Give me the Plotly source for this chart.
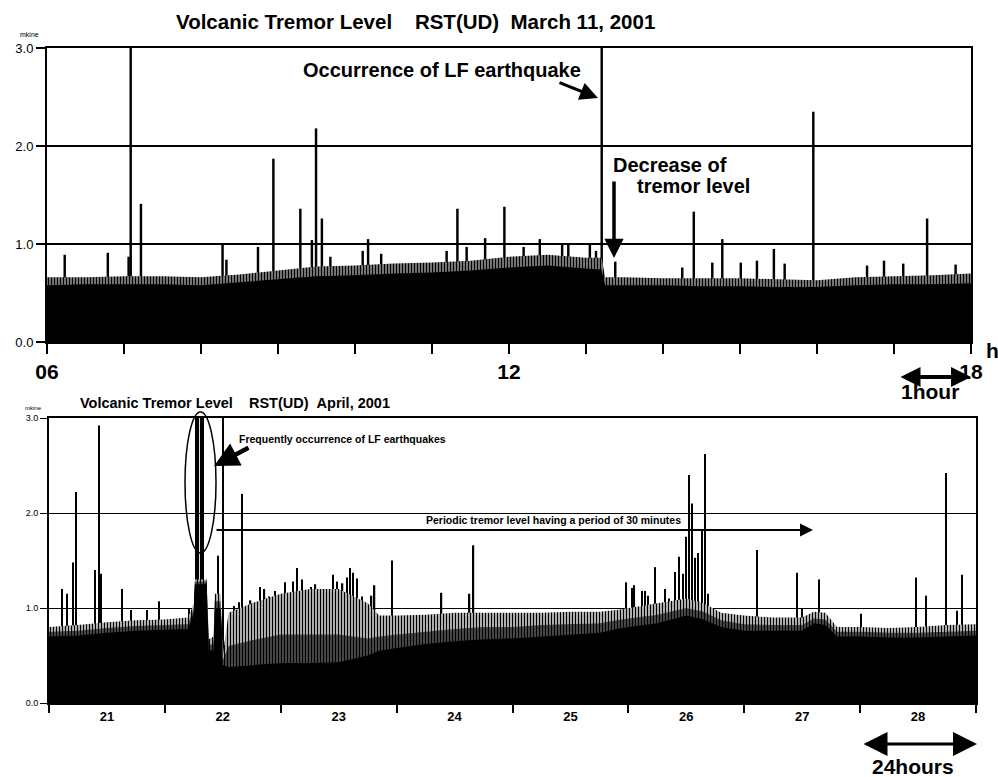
import plotly.graph_objects as go

# ---------------- data: top panel (March 11, 2001, hours) ----------------
top_time = [6.0, 6.5, 7.0, 7.5, 8.0, 8.5, 9.0, 9.5, 10.0, 10.5, 11.0, 11.5, 12.0, 12.5,
            13.0, 13.2, 13.25, 13.5, 14.0, 14.5, 15.0, 15.5, 16.0, 16.5, 17.0, 17.5, 18.0]
top_low = [0.58, 0.59, 0.59, 0.59, 0.58, 0.61, 0.64, 0.67, 0.68, 0.70, 0.71, 0.73, 0.76, 0.78,
           0.75, 0.74, 0.58, 0.58, 0.58, 0.57, 0.57, 0.56, 0.56, 0.58, 0.59, 0.59, 0.60]
top_high = [0.66, 0.66, 0.67, 0.67, 0.66, 0.69, 0.73, 0.77, 0.78, 0.80, 0.81, 0.83, 0.87, 0.89,
            0.86, 0.86, 0.66, 0.66, 0.65, 0.65, 0.65, 0.64, 0.63, 0.66, 0.67, 0.68, 0.70]
top_spike_time = [6.23, 6.79, 7.06, 7.087, 7.22, 8.28, 8.33, 8.74, 8.94, 9.29, 9.44, 9.494, 9.57,
                  9.68, 10.10, 10.17, 10.34, 11.19, 11.33, 11.45, 11.69, 11.94, 12.19, 12.40,
                  12.69, 12.77, 13.05, 13.13, 13.204, 13.38, 14.25, 14.40, 14.64, 14.77, 15.01,
                  15.22, 15.44, 15.58, 15.952, 16.65, 16.87, 17.12, 17.43, 17.80]
top_spike_val = [0.89, 0.91, 0.87, 3.0, 1.41, 0.99, 0.84, 0.97, 1.87, 1.36, 1.04, 2.18, 1.26,
                 0.87, 0.93, 1.05, 0.90, 0.93, 1.36, 0.97, 1.06, 1.38, 0.97, 1.05,
                 1.01, 0.99, 0.99, 0.93, 3.0, 0.82, 0.76, 1.33, 0.81, 1.05, 0.81,
                 0.83, 0.95, 0.80, 2.35, 0.78, 0.83, 0.80, 1.26, 0.79]
top_hours = list(range(6, 19))
top_hour_labels = ["06", "", "", "", "", "", "12", "", "", "", "", "", "18"]

# ---------------- data: bottom panel (April 2001, days) ----------------
bot_day = [21.0, 21.25, 21.5, 21.75, 22.0, 22.2, 22.25, 22.26, 22.36, 22.38, 22.42, 22.43,
           22.48, 22.5, 22.55, 22.75, 23.0, 23.25, 23.5, 23.75, 23.85, 24.0, 24.25, 24.5,
           24.75, 25.0, 25.25, 25.5, 25.75, 25.9, 26.0, 26.25, 26.5, 26.65, 26.8, 27.0,
           27.25, 27.5, 27.6, 27.7, 27.8, 28.0, 28.25, 28.5, 28.75, 29.0]
bot_low = [0.70, 0.71, 0.74, 0.76, 0.77, 0.78, 0.95, 1.25, 1.25, 0.56, 0.55, 1.00,
           1.00, 0.40, 0.38, 0.40, 0.42, 0.42, 0.43, 0.50, 0.55, 0.58, 0.62, 0.65,
           0.67, 0.68, 0.70, 0.72, 0.74, 0.78, 0.80, 0.84, 0.92, 0.88, 0.80, 0.76,
           0.76, 0.76, 0.84, 0.82, 0.70, 0.70, 0.69, 0.69, 0.70, 0.71]
bot_mid = [0.75, 0.76, 0.79, 0.81, 0.82, 0.83, 1.00, 1.28, 1.28, 0.61, 0.62, 1.07,
           1.07, 0.45, 0.60, 0.66, 0.72, 0.72, 0.72, 0.68, 0.70, 0.72, 0.75, 0.78,
           0.80, 0.80, 0.82, 0.83, 0.84, 0.87, 0.89, 0.93, 1.00, 0.96, 0.87, 0.83,
           0.82, 0.82, 0.89, 0.88, 0.75, 0.75, 0.74, 0.74, 0.75, 0.76]
bot_high = [0.80, 0.82, 0.85, 0.87, 0.88, 0.90, 1.05, 1.30, 1.30, 0.67, 0.70, 1.15,
            1.15, 0.50, 0.95, 1.05, 1.15, 1.20, 1.20, 1.05, 0.92, 0.92, 0.93, 0.95,
            0.95, 0.95, 0.95, 0.96, 0.96, 0.98, 1.00, 1.05, 1.10, 1.05, 0.95, 0.92,
            0.90, 0.90, 0.96, 0.95, 0.80, 0.80, 0.79, 0.80, 0.82, 0.83]
bot_spike_day = [21.112, 21.155, 21.207, 21.233, 21.397, 21.431, 21.448, 21.629, 21.707, 21.845,
                 21.948, 22.207, 22.270, 22.290, 22.310, 22.330, 22.457, 22.500, 22.664,
                 22.60, 22.64, 22.70, 22.74, 22.78, 22.82, 22.86, 22.90, 22.95, 22.99,
                 23.034, 23.07, 23.103, 23.138, 23.181, 23.22, 23.26, 23.30, 23.34, 23.38,
                 23.42, 23.448, 23.483, 23.534, 23.569, 23.595, 23.621, 23.655, 23.70, 23.74,
                 23.784, 23.810, 23.957, 24.388, 24.630, 24.664,
                 25.983, 26.034, 26.052, 26.121, 26.147, 26.172, 26.233, 26.319, 26.353,
                 26.405, 26.440, 26.474, 26.500, 26.526, 26.552, 26.578, 26.603, 26.638, 26.664,
                 26.690, 27.112, 27.457, 27.500, 27.647, 28.009, 28.483, 28.569, 28.741, 28.836,
                 28.879]
bot_spike_val = [1.20, 1.15, 1.48, 2.22, 1.40, 2.92, 1.36, 1.20, 0.98, 0.98,
                 1.07, 1.00, 3.0, 3.0, 3.0, 3.0, 1.55, 3.0, 2.20,
                 1.02, 1.06, 1.00, 1.08, 1.05, 1.22, 1.20, 1.12, 1.18, 1.10,
                 1.27, 1.15, 1.28, 1.42, 1.30, 1.16, 1.22, 1.25, 1.10, 1.18,
                 1.20, 1.35, 1.28, 1.26, 1.32, 1.42, 1.37, 1.31, 1.12, 1.05,
                 1.13, 1.24, 1.50, 1.16, 1.15, 1.66,
                 1.27, 1.21, 1.24, 1.18, 1.18, 1.13, 1.43, 1.20, 1.10,
                 1.38, 1.54, 1.36, 1.75, 2.40, 2.10, 1.53, 1.58, 1.82, 2.62,
                 1.15, 1.61, 1.37, 1.00, 1.30, 0.94, 1.32, 1.13, 2.42, 0.97,
                 1.35]
bot_day_ticks = list(range(21, 30))
bot_day_labels = [str(d) for d in range(21, 29)]
y_ticks = [0, 1, 2, 3]
y_tick_labels = ["0.0", "1.0", "2.0", "3.0"]

# ---------------- figure ----------------
W, H = 998, 777
FONT = "Liberation Sans, Arial, sans-serif"


def px(x):
    return x / W


def py(y):
    return 1 - y / H


def pattern(sol):
    return dict(shape="|", fgcolor="black", bgcolor="white", size=3, solidity=sol,
                fillmode="replace")


fig = go.Figure()

# top panel
fig.add_trace(go.Scatter(x=top_time, y=top_high, mode="lines", line=dict(width=0),
                         fill="tozeroy", fillcolor="white", fillpattern=pattern(0.7),
                         xaxis="x", yaxis="y", hoverinfo="skip"))
fig.add_trace(go.Scatter(x=top_time, y=top_low, mode="lines", line=dict(width=0, color="black"),
                         fill="tozeroy", fillcolor="black", xaxis="x", yaxis="y",
                         hoverinfo="skip"))
fig.add_trace(go.Bar(x=top_spike_time, y=top_spike_val, width=0.032,
                     marker=dict(color="black", line=dict(width=0)), xaxis="x", yaxis="y"))

# bottom panel
fig.add_trace(go.Scatter(x=bot_day, y=bot_high, mode="lines", line=dict(width=0),
                         fill="tozeroy", fillcolor="white", fillpattern=pattern(0.55),
                         xaxis="x2", yaxis="y2", hoverinfo="skip"))
fig.add_trace(go.Scatter(x=bot_day, y=bot_mid, mode="lines", line=dict(width=0),
                         fill="tozeroy", fillcolor="white", fillpattern=pattern(0.82),
                         xaxis="x2", yaxis="y2", hoverinfo="skip"))
fig.add_trace(go.Scatter(x=bot_day, y=bot_low, mode="lines", line=dict(width=0, color="black"),
                         fill="tozeroy", fillcolor="black", xaxis="x2", yaxis="y2",
                         hoverinfo="skip"))
fig.add_trace(go.Bar(x=bot_spike_day, y=bot_spike_val, width=0.011,
                     marker=dict(color="black", line=dict(width=0)), xaxis="x2", yaxis="y2"))

axis_common = dict(showline=True, linecolor="black", linewidth=2, mirror=True,
                   zeroline=False, automargin=False)

fig.update_layout(
    width=W, height=H, margin=dict(l=0, r=0, t=0, b=0, autoexpand=False),
    paper_bgcolor="white", plot_bgcolor="white", showlegend=False, barmode="overlay",
    font=dict(family=FONT, color="black"),
    xaxis=dict(domain=[px(47), px(971)], range=[6, 18], anchor="y",
               tickvals=top_hours, ticktext=["<b>%s</b>" % t if t else "" for t in top_hour_labels],
               ticks="outside", ticklen=10, tickwidth=2, tickcolor="black",
               tickfont=dict(size=21, family=FONT), showgrid=False, **axis_common),
    yaxis=dict(domain=[py(342), py(48)], range=[0, 3], anchor="x",
               tickvals=y_ticks, ticktext=y_tick_labels, ticks="outside", ticklen=9,
               tickwidth=1.5, tickcolor="black", tickfont=dict(size=13, family=FONT),
               showgrid=True, gridcolor="black", gridwidth=1.5, **axis_common),
    xaxis2=dict(domain=[px(49), px(976)], range=[21, 29], anchor="y2",
                tickvals=[d + 0.5 for d in range(21, 29)],
                ticktext=["<b>%s</b>" % t for t in bot_day_labels], ticks="",
                tickfont=dict(size=13, family=FONT), showgrid=False,
                minor=dict(tickvals=bot_day_ticks, ticks="outside", ticklen=8, tickwidth=2,
                           tickcolor="black", showgrid=False),
                **axis_common),
    yaxis2=dict(domain=[py(703), py(418)], range=[0, 3], anchor="x2",
                tickvals=y_ticks, ticktext=y_tick_labels, ticks="outside", ticklen=7,
                tickwidth=1, tickcolor="black", tickfont=dict(size=9, family=FONT),
                showgrid=True, gridcolor="black", gridwidth=1, **axis_common),
)

NB = "\u00a0"
ann = []


def text(x, y, s, size, bold=False, xanchor="center"):
    ann.append(dict(x=px(x), y=py(y), xref="paper", yref="paper", showarrow=False,
                    text=("<b>%s</b>" % s) if bold else s, xanchor=xanchor, yanchor="middle",
                    font=dict(size=size, family=FONT, color="black")))


def arrow(x, y, x0, y0, width, size, head=2, both=False):
    ann.append(dict(x=px(x), y=py(y), xref="paper", yref="paper", text="", showarrow=True,
                    ax=x0 - x, ay=y0 - y, axref="pixel", ayref="pixel",
                    arrowhead=head, startarrowhead=head, arrowsize=size, startarrowsize=size,
                    arrowwidth=width, arrowcolor="black",
                    arrowside="end+start" if both else "end"))


text(415, 22, "Volcanic Tremor Level" + NB * 4 + "RST(UD)" + NB * 2 + "March 11, 2001", 20.5, bold=True)
text(29, 35, "mkine", 7)
text(442, 70, "Occurrence of LF earthquake", 20, bold=True)
arrow(598, 98, 558, 82, 3, 1.2)
text(611, 165, "Decrease of", 20, bold=True, xanchor="left")
text(635, 186, "tremor level", 20, bold=True, xanchor="left")
arrow(614, 258, 614, 180, 3.5, 1.1)
text(992, 350, "<b>h</b>", 21)
arrow(971, 377, 899, 377, 4, 1.0, both=True)
text(930, 392, "1hour", 21, bold=True)

text(235, 403, "Volcanic Tremor Level" + NB * 4 + "RST(UD)" + NB * 2 + "April, 2001", 14.5, bold=True)
text(33, 408, "mkine", 6)
text(237, 439, "Frequently occurrence of LF earthquakes", 10.5, bold=True, xanchor="left")
arrow(214, 466, 250, 447, 4.5, 1.1)
text(553, 520, "Periodic tremor level having a period of 30 minutes", 10.5, bold=True)
arrow(813, 530, 215, 530, 2, 1.3)
arrow(977, 744, 862, 744, 3, 1.6, both=True)
text(913, 766, "24hours", 21, bold=True)

fig.update_layout(annotations=ann)
fig.add_shape(type="circle", xref="paper", yref="paper", x0=px(185), x1=px(216),
              y0=py(553), y1=py(412), line=dict(color="black", width=1.5))

fig.write_html("out.html", config={"displayModeBar": False},
               post_script="document.body.style.margin='0';")
